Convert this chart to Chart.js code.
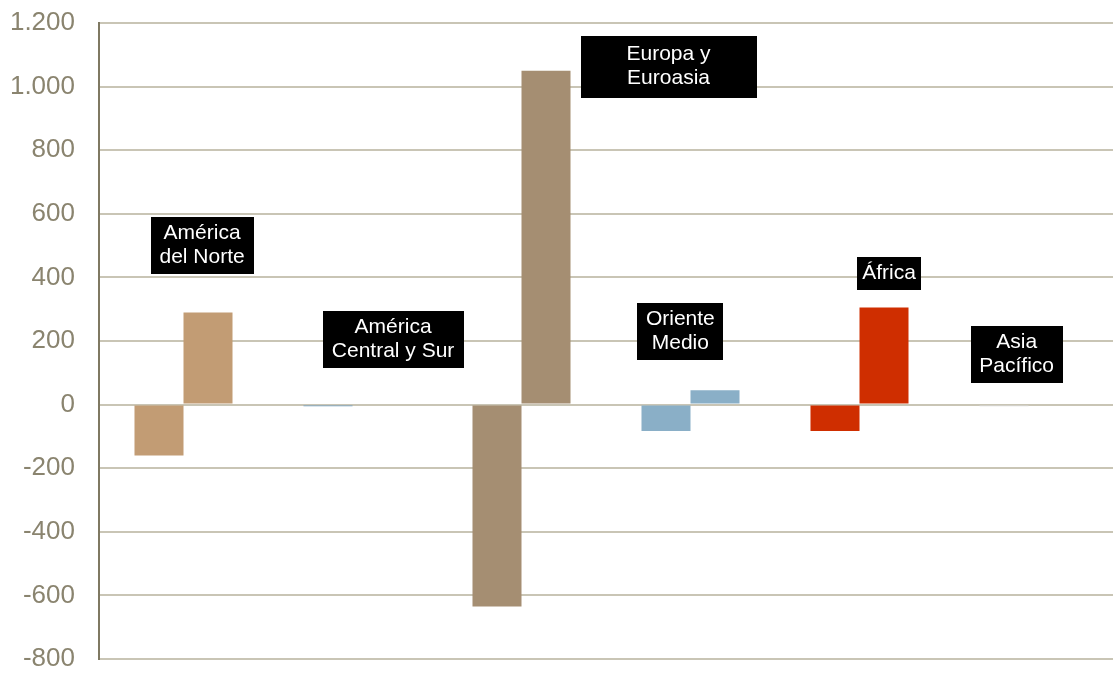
<!DOCTYPE html>
<html>
<head>
<meta charset="utf-8">
<script src="https://cdn.jsdelivr.net/npm/chart.js@4.4.1/dist/chart.umd.min.js"></script>
<style>
  html, body { margin: 0; padding: 0; background: #fff; }
  #wrap { width: 1113px; height: 673px; }
</style>
</head>
<body>
<div id="wrap"><canvas id="chart"></canvas></div>
<script>
// Regions (one label per category)
const categories = ['América del Norte', 'América Central y Sur', 'Europa y Euroasia', 'Oriente Medio', 'África', 'Asia Pacífico'];
const labelLines = [['América', 'del Norte'], ['América', 'Central y Sur'], ['Europa y', 'Euroasia'], ['Oriente', 'Medio'], ['África'], ['Asia', 'Pacífico']];

// Two bars per region: the falling one and the rising one
const valuesDown = [-160, -5, -635, -83, -83, -5];
const valuesUp = [290, 0, 1050, 45, 305, 0];

const regionColors = ['#C29C74', '#6C9BC0', '#A58E72', '#8AAFC7', '#CF2E00', '#DCDCDC'];

const yMin = -800;
const yMax = 1200;
const yStep = 200;

function formatNum(v) {
    const s = Math.abs(v).toString().replace(/\B(?=(\d{3})+(?!\d))/g, '.');
    return (v < 0 ? '-' : '') + s;
}

// black boxes with white text, placed in data coordinates
const boxLabels = {
    id: 'boxLabels',
    afterDatasetsDraw(chart, args, opts) {
        const ctx = chart.ctx;
        const xs = chart.scales.x;
        const ys = chart.scales.y;
        ctx.save();
        ctx.font = opts.font;
        ctx.textAlign = 'center';
        ctx.textBaseline = 'middle';
        opts.items.forEach((it, i) => {
            const lines = labelLines[i];
            const cx = xs.getPixelForValue(i) + it.dx * (xs.width / categories.length);
            const cy = ys.getPixelForValue(it.y);
            const h = it.h;
            ctx.fillStyle = '#000';
            ctx.fillRect(Math.round(cx - it.w / 2), Math.round(cy - h / 2), it.w, h);
            ctx.fillStyle = '#fff';
            const lh = opts.lineHeight;
            const top = cy - (lines.length - 1) * lh / 2;
            lines.forEach((ln, k) => ctx.fillText(ln, cx, top + k * lh));
        });
        ctx.restore();
    }
};

new Chart(document.getElementById('chart'), {
    type: 'bar',
    data: {
        labels: categories,
        datasets: [
            { label: 'baja', data: valuesDown, backgroundColor: regionColors, borderWidth: 0 },
            { label: 'alza', data: valuesUp, backgroundColor: regionColors, borderWidth: 0 }
        ]
    },
    options: {
        responsive: true,
        maintainAspectRatio: false,
        animation: false,
        layout: { padding: { top: 23, bottom: 14, left: 0, right: 0 } },
        datasets: {
            bar: { categoryPercentage: 0.58, barPercentage: 1.0 }
        },
        plugins: {
            legend: { display: false },
            tooltip: { enabled: false },
            boxLabels: {
                font: '21px "Liberation Sans", Arial, sans-serif',
                lineHeight: 24,
                items: [
                    { dx: 0.11, y: 501, w: 103, h: 57 },
                    { dx: 0.24, y: 206, w: 141, h: 57 },
                    { dx: 0.87, y: 1063, w: 176, h: 62 },
                    { dx: -0.06, y: 231, w: 86, h: 57 },
                    { dx: 0.175, y: 413, w: 64, h: 33 },
                    { dx: -0.07, y: 157, w: 92, h: 57 }
                ]
            }
        },
        scales: {
            x: {
                display: false,
                grid: { display: false }
            },
            y: {
                min: yMin,
                max: yMax,
                afterFit(scale) {
                    scale.width = 99;
                    scale.paddingTop = 0;
                    scale.paddingBottom = 0;
                },
                ticks: {
                    stepSize: yStep,
                    padding: 24,
                    color: '#8A846F',
                    font: { family: '"Liberation Sans", Arial, sans-serif', size: 26 },
                    callback: v => formatNum(v)
                },
                grid: {
                    color: '#C9C5B5',
                    lineWidth: 2,
                    drawTicks: false
                },
                border: { color: '#7F7962', width: 2 }
            }
        }
    },
    plugins: [boxLabels]
});
</script>
</body>
</html>
